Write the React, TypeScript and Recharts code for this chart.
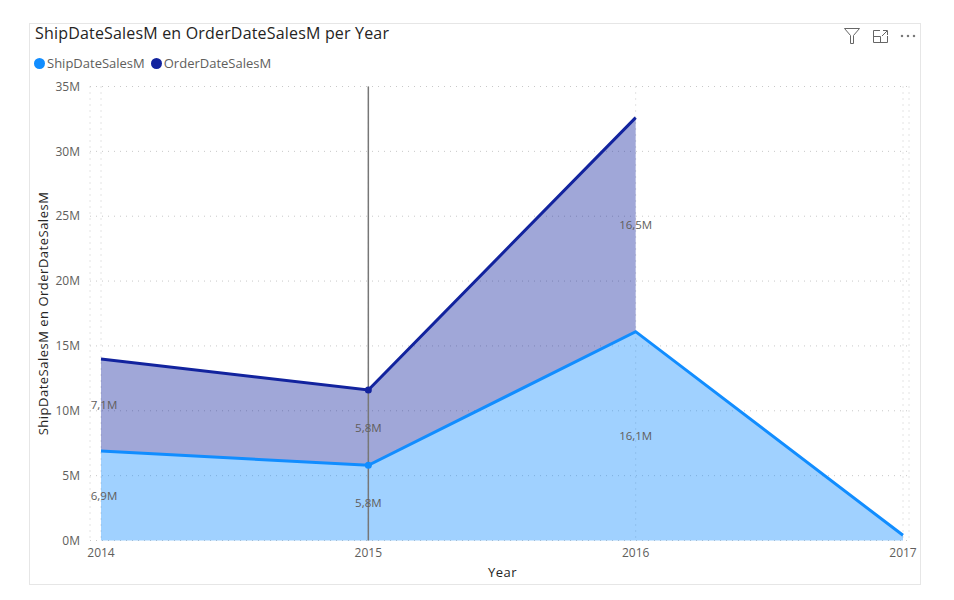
import { ComposedChart, Area, Line, XAxis, YAxis, CartesianGrid, Legend, ReferenceLine, ReferenceDot } from "recharts";

const years: number[] = [2014, 2015, 2016, 2017];
const shipDateSales: number[] = [6.9, 5.8, 16.1, 0.4];
const orderDateSales: (number | null)[] = [7.1, 5.8, 16.5, null];
const yTicks: number[] = [0, 5, 10, 15, 20, 25, 30, 35];
const hoverYear = 2015;

const shipName = "ShipDateSalesM";
const orderName = "OrderDateSalesM";
const legendOrder = [shipName, orderName];

const shipColor = "#118DFF";
const orderColor = "#12239E";
const textColor = "#605E5C";
const font = "'Open Sans', sans-serif";

// order sits on top of ship, and stops where it has no value
const data = years.map((year, i) => {
    const order = orderDateSales[i];
    return {
        year,
        ship: shipDateSales[i],
        orderBand: order === null ? null : [shipDateSales[i], shipDateSales[i] + order],
        orderTop: order === null ? null : shipDateSales[i] + order,
    };
});

const fmt = (v: number) => `${v.toString().replace(".", ",")}M`;

const hoverDot = (color: string) => (props: any) => {
    if (props.payload.year !== hoverYear) return <g key={props.index} />;
    return <circle key={props.index} cx={props.cx} cy={props.cy} r={3.5} fill={color} stroke="none" />;
};

const labelStyle = { fill: textColor, fontSize: 12, fontFamily: font };
const dataLabelStyle = { fill: textColor, fontSize: 11.5, fontFamily: font };
const axisTitleStyle = { fill: "#252423", fontSize: 13, fontFamily: font, letterSpacing: 0.5 };

const renderLegend = (props: any) => {
    const items = (props.payload || [])
        .filter((item: any) => legendOrder.includes(item.value))
        .sort((a: any, b: any) => legendOrder.indexOf(a.value) - legendOrder.indexOf(b.value));
    return (
        <div style={{ display: "flex", fontSize: 13, lineHeight: "18px", color: textColor, fontFamily: font, whiteSpace: "nowrap" }}>
            {items.map((item: any) => (
                <div key={item.value} style={{ display: "flex", alignItems: "center", marginRight: 6 }}>
                    <span style={{ width: 11, height: 11, borderRadius: "50%", background: item.color, marginRight: 2 }} />
                    {item.value}
                </div>
            ))}
        </div>
    );
};

const App = () => {
    return (
        <div style={{ position: "absolute", left: 0, top: 0, width: 954, height: 600, background: "#fff", fontFamily: font }}>
            <div style={{ position: "absolute", left: 29, top: 23, width: 892, height: 562, border: "1px solid #e6e6e6", boxSizing: "border-box" }} />
            <div style={{ position: "absolute", left: 35, top: 22, fontSize: 16, lineHeight: "22px", color: "#252423", letterSpacing: 0.18, whiteSpace: "nowrap" }}>
                ShipDateSalesM en OrderDateSalesM per Year
            </div>
            <svg width={90} height={24} style={{ position: "absolute", left: 840, top: 24 }} fill="none" stroke="#666" strokeWidth={1}>
                <path d="M4.5 4.5 H19.5 L13.5 11.5 V19.5 H10.5 V11.5 Z" />
                <path d="M40 6.5 H33.5 V18.5 H47.5 V12 M33.5 12.5 H40.5 V18.5 M42 12 L47 7 M43 6.5 H47.5 V11" />
                <circle cx={62} cy={12} r={0.8} fill="#666" />
                <circle cx={68} cy={12} r={0.8} fill="#666" />
                <circle cx={74} cy={12} r={0.8} fill="#666" />
            </svg>
            <div style={{ position: "absolute", left: 0, top: 0 }}>
                <ComposedChart width={954} height={600} data={data} margin={{ top: 86.5, right: 45, bottom: 19.5, left: 0 }}>
                    <CartesianGrid stroke="#c8c8c8" strokeDasharray="1 5" />
                    <XAxis
                        dataKey="year"
                        type="number"
                        domain={[2014, 2017]}
                        ticks={years}
                        padding={{ left: 11, right: 6 }}
                        axisLine={false}
                        tickLine={false}
                        height={40}
                        tickMargin={2}
                        interval={0}
                        tick={labelStyle}
                        label={{ value: "Year", position: "insideBottom", offset: 4, dx: 3, ...axisTitleStyle }}
                    />
                    <YAxis
                        width={90}
                        domain={[0, 35]}
                        ticks={yTicks}
                        axisLine={false}
                        tickLine={false}
                        tickMargin={4}
                        tickFormatter={(v: number) => `${v}M`}
                        tick={labelStyle}
                        label={{ value: "ShipDateSalesM en OrderDateSalesM", angle: -90, position: "center", dx: -2, ...axisTitleStyle }}
                    />
                    <Legend
                        verticalAlign="middle"
                        align="center"
                        content={renderLegend}
                        wrapperStyle={{ position: "absolute", left: 34, top: 54, width: 400 }}
                    />
                    <Area
                        dataKey="orderBand"
                        name={orderName}
                        type="linear"
                        stroke="none"
                        fill={orderColor}
                        fillOpacity={0.4}
                        connectNulls={false}
                        dot={false}
                        activeDot={false}
                        isAnimationActive={false}
                    />
                    <Line
                        dataKey="orderTop"
                        type="linear"
                        stroke={orderColor}
                        strokeWidth={3}
                        connectNulls={false}
                        dot={hoverDot(orderColor)}
                        activeDot={false}
                        legendType="none"
                        isAnimationActive={false}
                    />
                    <Area
                        dataKey="ship"
                        name={shipName}
                        type="linear"
                        stroke={shipColor}
                        strokeWidth={3}
                        fill={shipColor}
                        fillOpacity={0.4}
                        dot={hoverDot(shipColor)}
                        activeDot={false}
                        isAnimationActive={false}
                    />
                    <ReferenceLine x={hoverYear} stroke="#777" strokeWidth={1.5} />
                    {years.map((year, i) => (
                        <ReferenceDot
                            key={`ship-${year}`}
                            x={year}
                            y={shipDateSales[i] / 2}
                            r={0}
                            stroke="none"
                            fill="none"
                            label={i < 3 ? { value: fmt(shipDateSales[i]), position: "center", dx: i === 0 ? 3 : 0, ...dataLabelStyle } : undefined}
                        />
                    ))}
                    {years.map((year, i) => {
                        const order = orderDateSales[i];
                        if (order === null) return null;
                        return (
                            <ReferenceDot
                                key={`order-${year}`}
                                x={year}
                                y={shipDateSales[i] + order / 2}
                                r={0}
                                stroke="none"
                                fill="none"
                                label={{ value: fmt(order), position: "center", dx: i === 0 ? 3 : 0, ...dataLabelStyle }}
                            />
                        );
                    })}
                </ComposedChart>
            </div>
        </div>
    );
};

export default App;
